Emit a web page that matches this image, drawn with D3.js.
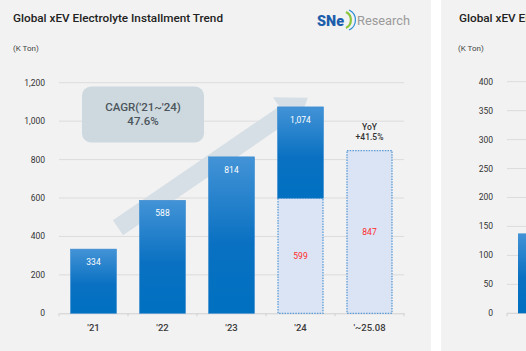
<!DOCTYPE html>
<html><head><meta charset="utf-8">
<script src="https://cdn.jsdelivr.net/npm/d3@7"></script>
<style>html,body{margin:0;padding:0;background:#fff;overflow:hidden}svg{display:block}</style>
</head><body>
<svg id="c" width="526" height="351"></svg>
<script>
const categories = ["'21", "'22", "'23", "'24", "'~25.08"];
const annualValues = [334, 588, 814, 1074, null];
const ytdValues = [null, null, null, 599, 847];
const yTicks = [0, 200, 400, 600, 800, 1000, 1200];
const cagrText = ["CAGR('21~'24)", "47.6%"];
const yoyText = ["YoY", "+41.5%"];
const rightTicks = [0, 50, 100, 150, 200, 250, 300, 350, 400];
const rightValues = [138];
const title = "Global xEV Electrolyte Installment Trend";
const unit = "(K Ton)";

const svg = d3.select("#c");
const font = "Roboto, 'Noto Sans', Arial, sans-serif";
svg.append("rect").attr("x",0).attr("y",0).attr("width",431).attr("height",351).attr("fill","#f2f2f2");
svg.append("rect").attr("x",441).attr("y",0).attr("width",85).attr("height",351).attr("fill","#f2f2f2");

const defs = svg.append("defs");
const g1 = defs.append("linearGradient").attr("id","blue").attr("x1",0).attr("y1",0).attr("x2",0).attr("y2",1);
g1.append("stop").attr("offset","0").attr("stop-color","#4393d6");
g1.append("stop").attr("offset","0.55").attr("stop-color","#0a71c2");
g1.append("stop").attr("offset","1").attr("stop-color","#0070c0");

// Titles
svg.append("text").attr("x",13).attr("y",22).attr("font-family",font).attr("font-size",11).attr("font-weight",500)
  .attr("fill","#222").attr("textLength",210).attr("lengthAdjust","spacingAndGlyphs").text(title);
svg.append("text").attr("x",13).attr("y",51).attr("font-family",font).attr("font-size",8).attr("fill","#444").text(unit);
// logo
const logo = svg.append("g");
logo.append("text").attr("x",317).attr("y",26).attr("font-family",font).attr("font-size",14).attr("font-weight",900)
  .attr("fill","#1d5eac").attr("textLength",27).attr("lengthAdjust","spacingAndGlyphs").text("SNe");
logo.append("path").attr("d","M346,12 A9,9 0 0 1 346,28").attr("fill","none").attr("stroke","#8cc63f").attr("stroke-width",2.2);
logo.append("path").attr("d","M349,10 A11,11 0 0 1 349,30").attr("fill","none").attr("stroke","#2b8fd6").attr("stroke-width",1.2);
logo.append("text").attr("x",357).attr("y",25).attr("font-family",font).attr("font-size",12)
  .attr("fill","#9a9a9a").attr("textLength",53).attr("lengthAdjust","spacingAndGlyphs").text("Research");

// scales
const x = d3.scaleBand().domain(categories).range([59,404]).paddingInner(1/3).paddingOuter(1/6);
const y = d3.scaleLinear().domain([0,1200]).range([313.3,82.7]);
const bw = x.bandwidth();

// grid
svg.append("g").selectAll("line").data(yTicks.slice(1)).join("line")
  .attr("x1",59).attr("x2",404).attr("y1",d=>y(d)).attr("y2",d=>y(d))
  .attr("stroke","#dcdcdc").attr("stroke-width",1);
// y labels
svg.append("g").selectAll("text").data(yTicks).join("text")
  .attr("x",45).attr("y",d=>y(d)).attr("dy","0.35em").attr("text-anchor","end")
  .attr("font-family",font).attr("font-size",8.5).attr("fill","#333").text(d=>d3.format(",")(d));
// x axis
const xa = d3.axisBottom(x).tickSize(0).tickPadding(10);
const xg = svg.append("g").attr("transform","translate(0,313.3)").call(xa);
xg.select(".domain").attr("stroke","#d0d0d0");
xg.selectAll("text").attr("font-family",font).attr("font-size",9.5).attr("font-weight",500).attr("fill","#3a3a3a").attr("dy","0.85em");
const step = x.step();
xg.selectAll("line.sep").data(d3.range(categories.length+1)).join("line").attr("class","sep")
  .attr("x1",i=>59+i*step).attr("x2",i=>59+i*step).attr("y1",0).attr("y2",3).attr("stroke","#d0d0d0");

// arrow (decoration from '21 to '24)
const T = [x(categories[3]) + bw*0.66, y(1122)];
const C = [x(categories[0]) + bw + 1.5, y(445)];
const L = Math.hypot(T[0]-C[0], T[1]-C[1]);
const u = [(T[0]-C[0])/L, (T[1]-C[1])/L];
const n = [-u[1], u[0]];
const B = [T[0]-28.6*u[0], T[1]-28.6*u[1]];
const P = (p,k)=>[p[0]+k*n[0], p[1]+k*n[1]];
const pts = [P(C,9),P(B,9),P(B,20),T,P(B,-20),P(B,-9),P(C,-9)];
svg.append("path").attr("d","M"+pts.map(p=>p.join(",")).join("L")+"Z").attr("fill","#d6dfe5");

// CAGR box
svg.append("rect").attr("x",82).attr("y",86.5).attr("width",122).attr("height",56).attr("rx",9)
  .attr("fill","#cdd8df");
svg.append("g").selectAll("text").data(cagrText).join("text")
  .attr("x",143).attr("y",(d,i)=>111+i*14).attr("text-anchor","middle").attr("font-family",font)
  .attr("font-size",11.5).attr("font-weight",500).attr("fill","#4c555b").text(d=>d);

// light (ytd) bars
const light = categories.map((c,i)=>({c, v: ytdValues[i]})).filter(d=>d.v!=null);
svg.append("g").selectAll("rect").data(light).join("rect")
  .attr("x",d=>x(d.c)+0.5).attr("y",d=>y(d.v)).attr("width",bw-1).attr("height",d=>y(0)-y(d.v))
  .attr("fill","#dbe4f4").attr("stroke","#5b9bd5").attr("stroke-width",1.3).attr("stroke-dasharray","1.5,1.2");
// annual bars (blue) - for '24 blue part sits above ytd part
const blue = categories.map((c,i)=>({c, v: annualValues[i], base: ytdValues[i] || 0})).filter(d=>d.v!=null);
svg.append("g").selectAll("rect").data(blue).join("rect")
  .attr("x",d=>x(d.c)).attr("y",d=>y(d.v)).attr("width",bw).attr("height",d=>y(d.base)-y(d.v))
  .attr("fill","url(#blue)").attr("stroke","#3a8ad0").attr("stroke-width",0.6);
// labels
svg.append("g").selectAll("text").data(blue).join("text")
  .attr("x",d=>x(d.c)+bw/2).attr("y",d=>y(d.v)+13).attr("dy","0.35em").attr("text-anchor","middle")
  .attr("font-family",font).attr("font-size",8.5).attr("fill","#ffffff").text(d=>d3.format(",")(d.v));
svg.append("g").selectAll("text").data(light).join("text")
  .attr("x",d=>x(d.c)+bw/2).attr("y",d=>y(d.v/2)).attr("dy","0.35em").attr("text-anchor","middle")
  .attr("font-family",font).attr("font-size",8.5).attr("fill","#ff2a2a").text(d=>d3.format(",")(d.v));
// YoY
const last = light[light.length-1];
svg.append("g").selectAll("text").data(yoyText).join("text")
  .attr("x",x(last.c)+bw/2).attr("y",(d,i)=>y(last.v)-24+i*10.5).attr("dy","0.35em").attr("text-anchor","middle")
  .attr("font-family",font).attr("font-size",8.5).attr("font-weight",500).attr("fill","#333").text(d=>d);

// right panel
svg.append("text").attr("x",459).attr("y",22).attr("font-family",font).attr("font-size",11).attr("font-weight",500)
  .attr("fill","#222").attr("textLength",210).attr("lengthAdjust","spacingAndGlyphs").text(title);
svg.append("text").attr("x",458).attr("y",51).attr("font-family",font).attr("font-size",8).attr("fill","#444").text(unit);
const y2 = d3.scaleLinear().domain([0,400]).range([313.3,81.7]);
svg.append("g").selectAll("line").data(rightTicks.slice(1)).join("line")
  .attr("x1",507).attr("x2",526).attr("y1",d=>y2(d)).attr("y2",d=>y2(d)).attr("stroke","#dcdcdc");
svg.append("line").attr("x1",507).attr("x2",526).attr("y1",y2(0)).attr("y2",y2(0)).attr("stroke","#d0d0d0");
svg.append("line").attr("x1",507).attr("x2",507).attr("y1",y2(0)).attr("y2",y2(0)+3).attr("stroke","#d0d0d0");
svg.append("g").selectAll("text").data(rightTicks).join("text")
  .attr("x",493).attr("y",d=>y2(d)).attr("dy","0.35em").attr("text-anchor","end")
  .attr("font-family",font).attr("font-size",8.5).attr("fill","#333").text(d=>d);
svg.append("g").selectAll("rect").data(rightValues).join("rect")
  .attr("x",518).attr("y",d=>y2(d)).attr("width",20).attr("height",d=>y2(0)-y2(d))
  .attr("fill","url(#blue)");
</script>
</body></html>
